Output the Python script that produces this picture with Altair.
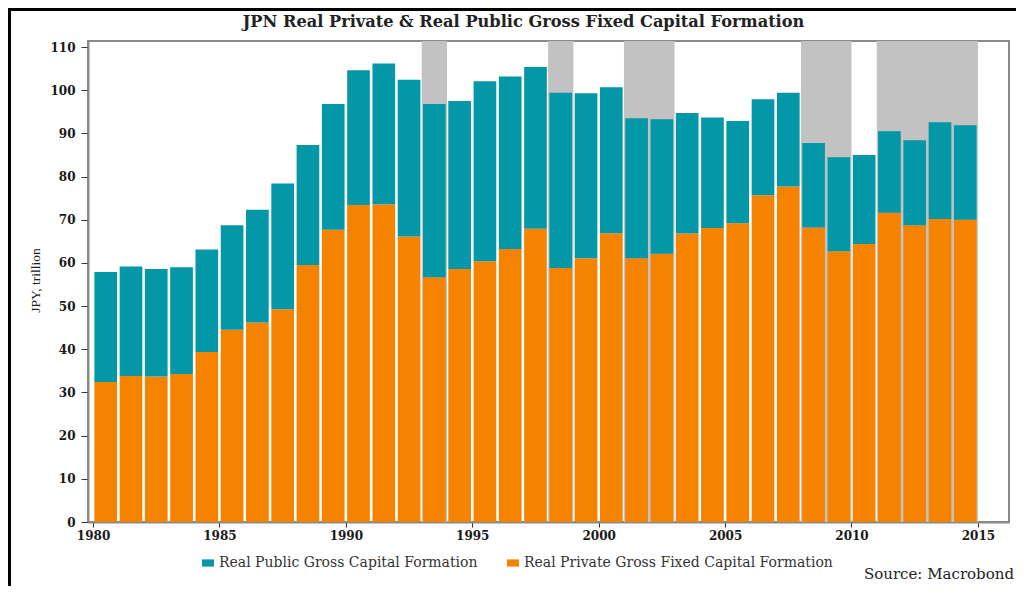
import altair as alt
import pandas as pd

years = list(range(1980, 2015))
private = [32.4, 33.8, 33.7, 34.3, 39.4, 44.5, 46.2, 49.3, 59.5, 67.7,
           73.4, 73.6, 66.1, 56.7, 58.6, 60.4, 63.2, 67.9, 58.8, 61.1,
           66.9, 61.1, 62.1, 66.8, 68.1, 69.2, 75.7, 77.7, 68.2, 62.7,
           64.4, 71.6, 68.7, 70.2, 70.0]
public = [25.5, 25.4, 24.9, 24.7, 23.7, 24.2, 26.1, 29.1, 27.8, 29.1,
          31.2, 32.6, 36.3, 40.1, 38.9, 41.7, 40.0, 37.5, 40.6, 38.2,
          33.8, 32.4, 31.2, 27.9, 25.6, 23.7, 22.2, 21.7, 19.6, 21.8,
          20.6, 18.9, 19.7, 22.4, 21.9]
rec_start = [1993, 1998, 2001, 2008, 2011, 2012]
rec_end = [1994, 1999, 2003, 2010, 2012, 2015]
x_ticks = [1980, 1985, 1990, 1995, 2000, 2005, 2010, 2015]
y_ticks = [0, 10, 20, 30, 40, 50, 60, 70, 80, 90, 100, 110]

TITLE = "JPN Real Private & Real Public Gross Fixed Capital Formation"
PUB = "Real Public Gross Capital Formation"
PRI = "Real Private Gross Fixed Capital Formation"
TEAL = "#0397a8"
ORANGE = "#f58300"

rows = []
for yr, pr, pu in zip(years, private, public):
    rows.append({"year": yr, "year_end": yr + 1, "series": PRI, "value": pr, "order": 0})
    rows.append({"year": yr, "year_end": yr + 1, "series": PUB, "value": pu, "order": 1})
df = pd.DataFrame(rows)
rec = pd.DataFrame({"start": rec_start, "end": rec_end})

W, H = 921, 481
PAD = {"left": 80, "top": 33, "right": 7, "bottom": 64}
xscale = alt.Scale(domain=[1979.8, 2016.23], nice=False, zero=False)
yscale = alt.Scale(domain=[0, 111.4], nice=False)

xaxis = alt.Axis(values=x_ticks, format="d", title=None, grid=False,
                 labelFont="DejaVu Serif", labelFontWeight="bold", labelFontSize=12,
                 labelColor="#1a1a1a", tickColor="#333333", tickSize=5, labelPadding=3,
                 domainColor="#8a8a8a", domainWidth=2, labelFlush=False)
yaxis = alt.Axis(values=y_ticks, title="JPY, trillion", grid=False,
                 labelFont="DejaVu Serif", labelFontWeight="bold", labelFontSize=12,
                 labelColor="#1a1a1a", tickColor="#333333", tickSize=7, labelPadding=6,
                 domainColor="#8a8a8a", domainWidth=2,
                 titleFont="Liberation Serif", titleFontWeight="normal", titleFontSize=13.5,
                 titleColor="#222222", titleX=-53, titleY=239, titleAngle=-90,
                 titleAlign="center", titleBaseline="middle")

bands = alt.Chart(rec).mark_rect(color="#c2c2c2").encode(
    x=alt.X("start:Q", scale=xscale, axis=xaxis),
    x2="end:Q",
    y=alt.value(0),
    y2=alt.value(H),
)

bars = alt.Chart(df).transform_stack(
    stack="value", groupby=["year"], as_=["v0", "v1"],
    sort=[alt.SortField("order", order="ascending")],
).mark_bar(xOffset=1.3, x2Offset=-1.3).encode(
    x=alt.X("year:Q", scale=xscale, axis=xaxis),
    x2="year_end:Q",
    y=alt.Y("v0:Q", scale=yscale, axis=yaxis),
    y2="v1:Q",
    color=alt.Color("series:N",
                    scale=alt.Scale(domain=[PUB, PRI], range=[TEAL, ORANGE]),
                    legend=alt.Legend(title=None, orient="none", direction="horizontal",
                                      legendX=113, legendY=515,
                                      symbolType="M-1,-0.6H1V0.6H-1Z", symbolSize=144,
                                      symbolStrokeWidth=0, labelFont="DejaVu Serif",
                                      labelFontSize=14, labelColor="#333333",
                                      labelLimit=0, labelOffset=4, columnPadding=28,
                                      padding=0)),
)

one = pd.DataFrame({"a": [0]})
frame_top = alt.Chart(one).mark_rule(color="black", strokeWidth=3).encode(
    x=alt.value(-80), x2=alt.value(W + 20), y=alt.value(-31.5))
frame_left = alt.Chart(one).mark_rule(color="black", strokeWidth=3).encode(
    x=alt.value(-78.5), y=alt.value(-33), y2=alt.value(H + 80))
title = alt.Chart(one).mark_text(align="center", baseline="middle",
                                 font="DejaVu Serif", fontSize=16.2, fontWeight="bold",
                                 color="#222222").encode(
    x=alt.value(435.5), y=alt.value(-19), text=alt.value(TITLE))
source = alt.Chart(one).mark_text(align="right", baseline="alphabetic",
                                  font="DejaVu Serif", fontSize=15,
                                  color="#222222").encode(
    x=alt.value(926), y=alt.value(538), text=alt.value("Source: Macrobond"))

chart = alt.layer(bands, bars, frame_top, frame_left, title, source).properties(
    width=W, height=H,
    autosize=alt.AutoSizeParams(type="none"),
    padding=PAD,
).configure_view(stroke="#8a8a8a", strokeWidth=2).configure_legend(
    labelFont="DejaVu Serif")

chart.save("out.html", embed_options={"renderer": "svg", "actions": False})
